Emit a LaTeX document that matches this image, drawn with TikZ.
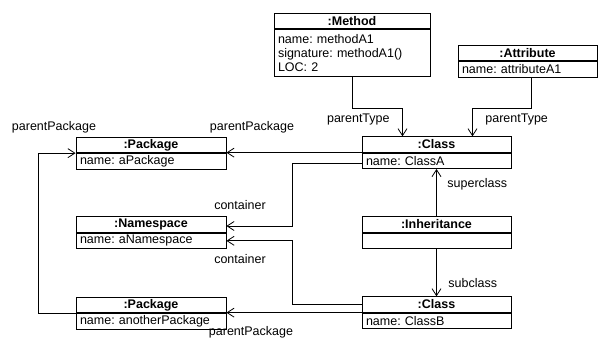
\documentclass[tikz,border=0pt]{standalone}
\usepackage{fontspec}
\setmainfont{Liberation Sans}
\usetikzlibrary{positioning,arrows.meta}
\frenchspacing
\tikzset{%
  objhead/.style = {draw, inner sep=0pt, minimum height=15.5pt,%
                    font=\fontsize{12.5}{14}\selectfont\bfseries},%
  objbody/.style = {draw, inner xsep=4pt, inner ysep=0pt, minimum height=15.5pt,%
                    align=left, font=\fontsize{12.5}{14}\selectfont},%
  link/.style    = {draw, line width=0.8pt, -{Straight Barb[length=7pt,width=9pt]}},%
  role/.style    = {inner sep=0pt, font=\fontsize{12.5}{14}\selectfont}%
}
\begin{document}
\begin{tikzpicture}[x=1pt, y=-1pt, line width=0.8pt, node distance=0pt]%
	\useasboundingbox (0,0) rectangle (598,339);%
	\node [objhead, minimum width=156pt] (methodH) at (352,21) {:Method};%
	\node [objbody, text width=148pt, minimum height=47pt, below=of methodH] (methodB)%
		{name: methodA1\\signature: methodA1()\\LOC: 2};%
	\node [objhead, minimum width=139pt] (attrH) at (527.5,53) {:Attribute};%
	\node [objbody, text width=131pt, below=of attrH] (attrB) {name: attributeA1};%
	\node [objhead, minimum width=149pt] (classAH) at (436.5,144.5) {:Class};%
	\node [objbody, text width=141pt, below=of classAH] (classAB) {name: ClassA};%
	\node [objhead, minimum width=149pt] (inhH) at (436.5,224.5) {:Inheritance};%
	\node [objbody, text width=141pt, below=of inhH] (inhB) {};%
	\node [objhead, minimum width=149pt] (classBH) at (436.5,304.5) {:Class};%
	\node [objbody, text width=141pt, below=of classBH] (classBB) {name: ClassB};%
	\node [objhead, minimum width=150pt] (pkgAH) at (151,145) {:Package};%
	\node [objbody, text width=142pt, below=of pkgAH] (pkgAB) {name: aPackage};%
	\node [objhead, minimum width=150pt] (nsH) at (151,224.5) {:Namespace};%
	\node [objbody, text width=142pt, below=of nsH] (nsB) {name: aNamespace};%
	\node [objhead, minimum width=150pt] (pkgBH) at (151,305) {:Package};%
	\node [objbody, text width=142pt, below=of pkgBH] (pkgBB) {name: anotherPackage};%
	\draw [link] (methodB.south) -- ++(0,31) -| ([xshift=-34pt]classAH.north);%
	\draw [link] ([xshift=4pt]attrB.south) -- ++(0,31) -| ([xshift=36pt]classAH.north);%
	\draw [link] (classAH.south west) -- (classAH.south west -| pkgAH.east);%
	\draw [link] ([yshift=-2.5pt]classAB.west) -- ++(-69,0) |- ([yshift=-1.5pt]nsH.east);%
	\draw [link] (classBH.west) -- ++(-69,0) |- (nsB.east);%
	\draw [link] (classBH.south west) -- (classBH.south west -| pkgBH.east);%
	\draw [link] (pkgBH.south west) -- ++(-37,0) |- (pkgAH.south west);%
	\draw [link] (inhH.north) -- (classAB.south);%
	\draw [link] (inhB.south) -- (classBH.north);%
	\node [role, anchor=east] (ptypeM) at (390,119) {parentType};%
	\node [role, anchor=west] (ptypeA) at (485,119) {parentType};%
	\node [role] (ppkgL) at (54,127) {parentPackage};%
	\node [role] (ppkgA) at (252,127) {parentPackage};%
	\node [role] (contA) at (240,205) {container};%
	\node [role] (contB) at (240,259) {container};%
	\node [role, anchor=west] (superR) at (447,184) {superclass};%
	\node [role, anchor=west] (subR) at (448,283) {subclass};%
	\node [role] (ppkgB) at (251,332.5) {parentPackage};%
\end{tikzpicture}
\end{document}
